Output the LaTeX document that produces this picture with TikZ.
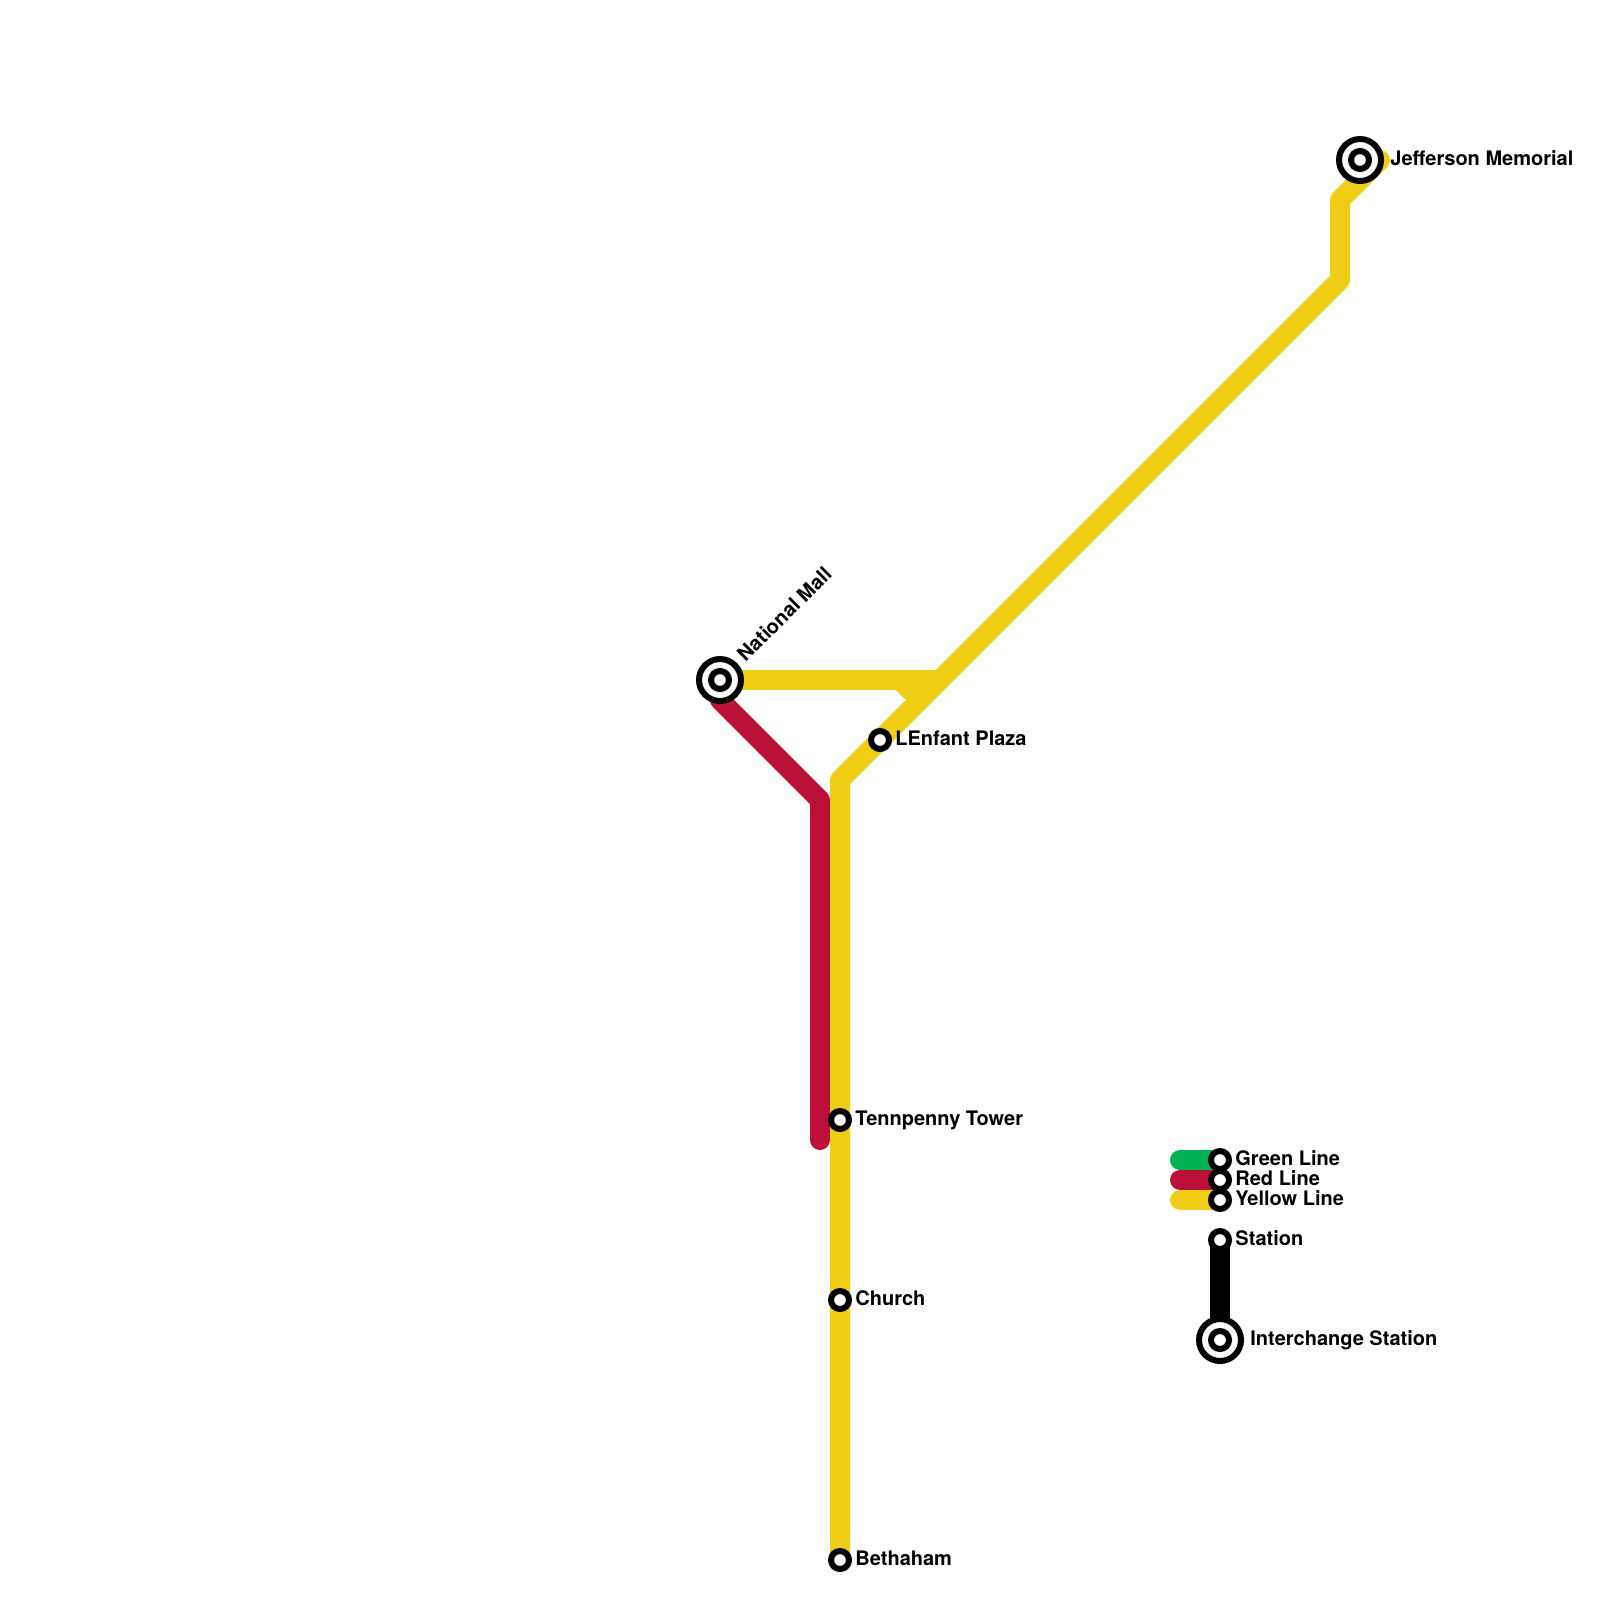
\documentclass[tikz,border=0pt]{standalone}
\usepackage{fontspec}
\setmainfont{TeX Gyre Heros}
\usepackage{xcolor}
\usetikzlibrary{positioning}
\definecolor{lineyellow}{HTML}{F0CE15}
\definecolor{linered}{HTML}{BD1038}
\definecolor{linegreen}{HTML}{00B251}
\tikzset{
  track/.style={line width=10pt, line cap=round, line join=round},
  station/.style={circle, draw=black, fill=white, line width=3pt, minimum size=9pt, inner sep=0pt, outer sep=0pt},
  hub/.style={station, minimum size=21pt},
  lbl/.style={font=\bfseries\fontsize{10pt}{10pt}\selectfont, inner sep=0pt, text height=1.45ex, text depth=.3ex, anchor=west, yshift=0.5pt}
}
\begin{document}
\begin{tikzpicture}[x=0.5pt, y=-0.5pt]
  \useasboundingbox (0,0) rectangle (1600,1600);
  \coordinate (mall) at (720,680);
  \coordinate (jefferson) at (1360,160);
  \coordinate (jeffEnd) at (1380,160);
  \coordinate (jeffBendA) at (1340,200);
  \coordinate (jeffBendB) at (1340,280);
  \coordinate (junction) at (940,680);
  \coordinate (spurA) at (900,680);
  \coordinate (spurB) at (920,700);
  \coordinate (southBend) at (840,780);
  \coordinate (bethaham) at (840,1560);
  \coordinate (redStart) at (720,700);
  \coordinate (redBend) at (820,800);
  \coordinate (redEnd) at (820,1140);
  \coordinate (keyGreenEnd) at (1180,1160);
  \coordinate (keyRedEnd) at (1180,1180);
  \coordinate (keyYellowEnd) at (1180,1200);
  \coordinate (keyGreen) at (1220,1160);
  \coordinate (keyRed) at (1220,1180);
  \coordinate (keyYellow) at (1220,1200);
  \coordinate (keyStation) at (1220,1240);
  \coordinate (keyHub) at (1220,1340);
  % lines
  \draw[track, linered] (redStart) -- (redBend) -- (redEnd);
  \draw[track, lineyellow] (jeffEnd) -- (jeffBendA) -- (jeffBendB) -- (southBend) -- (bethaham);
  \draw[track, lineyellow] (mall) -- (junction);
  \draw[track, lineyellow] (spurA) -- (spurB);
  % key
  \draw[track, linegreen] (keyGreenEnd) -- (keyGreen);
  \draw[track, linered] (keyRedEnd) -- (keyRed);
  \draw[track, lineyellow] (keyYellowEnd) -- (keyYellow);
  \draw[track, black] (keyStation) -- (keyHub);
  % stations
  \node[hub] (mallRing) at (mall) {};
  \node[station] (mallCore) at (mall) {};
  \node[hub] (jeffersonRing) at (jefferson) {};
  \node[station] (jeffersonCore) at (jefferson) {};
  \node[station] (lenfant) at (880,740) {};
  \node[station] (tennpenny) at (840,1120) {};
  \node[station] (church) at (840,1300) {};
  \node[station] (bethahamStn) at (bethaham) {};
  \node[station] (greenStn) at (keyGreen) {};
  \node[station] (redStn) at (keyRed) {};
  \node[station] (yellowStn) at (keyYellow) {};
  \node[station] (plainStn) at (keyStation) {};
  \node[hub] (hubRing) at (keyHub) {};
  \node[station] (hubCore) at (keyHub) {};
  % labels
  \node[lbl, rotate=45] (mallLabel) at (741,660) {National Mall};
  \node[lbl, right=4.5pt of jeffersonRing] (jeffersonLabel) {Jefferson Memorial};
  \node[lbl, right=3pt of lenfant] (lenfantLabel) {LEnfant Plaza};
  \node[lbl, right=3pt of tennpenny] (tennpennyLabel) {Tennpenny Tower};
  \node[lbl, right=3pt of church] (churchLabel) {Church};
  \node[lbl, right=3pt of bethahamStn] (bethahamLabel) {Bethaham};
  \node[lbl, right=3pt of greenStn] (greenLabel) {Green Line};
  \node[lbl, right=3pt of redStn] (redLabel) {Red Line};
  \node[lbl, right=3pt of yellowStn] (yellowLabel) {Yellow Line};
  \node[lbl, right=3pt of plainStn] (plainLabel) {Station};
  \node[lbl, right=4.5pt of hubRing] (hubLabel) {Interchange Station};
\end{tikzpicture}
\end{document}
